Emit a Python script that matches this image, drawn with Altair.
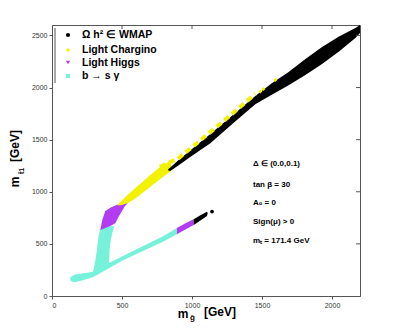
import altair as alt
import pandas as pd

# ---------------- data ----------------
# lower cyan region: blob + lower (b->s gamma) branch, indexed by m_gluino
cyan_x = [128, 140, 160, 200, 250, 290, 340, 400, 500, 600, 700, 800, 892]
cyan_low = [160, 140, 133, 145, 162, 180, 215, 262, 338, 400, 462, 525, 592]
cyan_high = [165, 190, 203, 213, 222, 232, 270, 312, 380, 445, 512, 578, 652]

# near-vertical cyan strip, indexed by m_stop
strip_y = [215, 300, 440, 505, 590, 640, 668]
strip_left = [290, 304, 321, 326, 335, 345, 352]
strip_right = [330, 405, 412, 416, 428, 438, 445]

# light Higgs region on the upper branch
ph_x = [345, 360, 381, 420, 452, 476, 500, 520, 543]
ph_high = [633, 735, 815, 850, 868, 880, 893, 902, 908]
ph_low = [633, 640, 652, 675, 698, 760, 815, 860, 895]

# light chargino band on the upper branch
ch_x = [470, 500, 547, 600, 650, 700, 774, 850]
ch_high = [878, 918, 978, 1040, 1098, 1158, 1240, 1300]
ch_low = [868, 872, 895, 940, 992, 1045, 1122, 1200]

# light Higgs on the lower branch
pl_x = [892, 950, 1012]
pl_high = [652, 695, 736]
pl_low = [592, 635, 681]

# WMAP on the lower branch
wl_x = [1012, 1060, 1107, 1112]
wl_high = [736, 775, 809, 797]
wl_low = [681, 725, 768, 793]
wl_dot_x = [1143]
wl_dot_y = [810]

# WMAP main band
wm_x = [830, 845, 900, 1000, 1131, 1300, 1452, 1570, 1690, 1810, 1929, 2050, 2167, 2200]
wm_high = [1215, 1232, 1300, 1410, 1555, 1745, 1920, 2040, 2150, 2275, 2390, 2490, 2572, 2600]
wm_low = [1205, 1200, 1250, 1345, 1465, 1665, 1840, 1930, 2022, 2120, 2225, 2345, 2476, 2524]

# chargino points along the top edge of the WMAP band
cd_x = [770, 900, 1000, 1131, 1300, 1452]
cd_y = [1240, 1318, 1428, 1572, 1763, 1940]
cp_x = [1488, 1510, 1595]
cp_y = [1962, 1985, 2072]

x_ticks = [0, 500, 1000, 1500, 2000]
y_ticks = [0, 500, 1000, 1500, 2000, 2500]

legend_labels = ["Ω h² ∈ WMAP", "Light Chargino", "Light Higgs", "b → s γ"]
legend_colors = ["#000000", "#f2f200", "#b43cf0", "#76f2da"]
legend_shapes = ["circle", "diamond", "triangle-down", "square"]

notes = ["Δ  ∈ (0.0,0.1)", "tan β = 30", "A₀  = 0", "Sign(μ) > 0", "mₜ = 171.4 GeV"]

BLACK, YELLOW, PURPLE, CYAN = legend_colors
W, H = 308, 271
FONT = "Liberation Sans"

xs = alt.Scale(domain=[0, 2200], nice=False, zero=False)
ys = alt.Scale(domain=[0, 2600], nice=False, zero=False)


def band(xv, lo, hi, color):
    df = pd.DataFrame({"x": xv, "lo": lo, "hi": hi})
    return alt.Chart(df).mark_area(color=color, opacity=1, clip=True).encode(
        x=alt.X("x:Q", scale=xs), y=alt.Y("hi:Q", scale=ys), y2="lo:Q")


x_axis = alt.Axis(values=x_ticks, title=None, grid=False, tickSize=3, tickColor="#555",
                  domainColor="#555", labelFontSize=7, labelFont=FONT, labelColor="#333",
                  labelPadding=2, format="d")
y_axis = alt.Axis(values=y_ticks, title=None, grid=False, tickSize=3, tickColor="#555",
                  domainColor="#555", labelFontSize=7, labelFont=FONT, labelColor="#333",
                  labelPadding=2, format="d")

base_df = pd.DataFrame({"x": cyan_x, "lo": cyan_low, "hi": cyan_high})
cyan_area = alt.Chart(base_df).mark_area(color=CYAN, opacity=1, clip=True).encode(
    x=alt.X("x:Q", scale=xs, axis=x_axis),
    y=alt.Y("hi:Q", scale=ys, axis=y_axis),
    y2="lo:Q")

strip_df = pd.DataFrame({"y": strip_y, "l": strip_left, "r": strip_right})
strip = alt.Chart(strip_df).mark_area(color=CYAN, opacity=1, orient="horizontal", clip=True).encode(
    y=alt.Y("y:Q", scale=ys), x=alt.X("l:Q", scale=xs), x2="r:Q")

layers = [cyan_area, strip,
          band(ph_x, ph_low, ph_high, PURPLE),
          band(ch_x, ch_low, ch_high, YELLOW),
          band(pl_x, pl_low, pl_high, PURPLE),
          band(wl_x, wl_low, wl_high, BLACK),
          band(wm_x, wm_low, wm_high, BLACK)]

dash = alt.Chart(pd.DataFrame({"x": cd_x, "y": cd_y})).mark_line(
    color=YELLOW, strokeWidth=4, strokeDash=[6, 4], clip=True).encode(
    x=alt.X("x:Q", scale=xs), y=alt.Y("y:Q", scale=ys))
ydots = alt.Chart(pd.DataFrame({"x": cp_x, "y": cp_y})).mark_point(
    filled=True, color=YELLOW, size=16, opacity=1, shape="diamond").encode(
    x=alt.X("x:Q", scale=xs), y=alt.Y("y:Q", scale=ys))
bdot = alt.Chart(pd.DataFrame({"x": wl_dot_x, "y": wl_dot_y})).mark_point(
    filled=True, color=BLACK, size=14, opacity=1).encode(
    x=alt.X("x:Q", scale=xs), y=alt.Y("y:Q", scale=ys))
layers += [dash, ydots, bdot]

# inward ticks on top and right frame
top_t = alt.Chart(pd.DataFrame({"v": x_ticks[1:]})).mark_rule(color="#555").encode(
    x=alt.X("v:Q", scale=xs), y=alt.value(0), y2=alt.value(4))
right_t = alt.Chart(pd.DataFrame({"v": y_ticks[1:]})).mark_rule(color="#555").encode(
    y=alt.Y("v:Q", scale=ys), x=alt.value(W), x2=alt.value(W - 4))
box_line = alt.Chart(pd.DataFrame({"v": [0]})).mark_rule(color="#555").encode(
    x=alt.value(3), y=alt.value(3), y2=alt.value(58))
layers += [top_t, right_t, box_line]

# legend
leg_rows = [10, 25, 37.5, 51]
for lab, col, shp, yy in zip(legend_labels, legend_colors, legend_shapes, leg_rows):
    d = pd.DataFrame({"t": [lab]})
    layers.append(alt.Chart(d).mark_point(filled=True, color=col, shape=shp, size=18, opacity=1).encode(
        x=alt.value(16), y=alt.value(yy)))
    layers.append(alt.Chart(d).mark_text(align="left", baseline="middle", font=FONT, fontWeight="bold",
                                         fontSize=10.5, color="#000").encode(
        x=alt.value(30), y=alt.value(yy), text="t:N"))

# annotations
note_rows = [139, 160, 178, 197, 216]
for txt, yy in zip(notes, note_rows):
    d = pd.DataFrame({"t": [txt]})
    layers.append(alt.Chart(d).mark_text(align="left", baseline="middle", font=FONT, fontWeight="bold",
                                         fontSize=8, color="#000").encode(
        x=alt.value(201), y=alt.value(yy), text="t:N"))


def label(txt, x, y, size, angle=0, align="center"):
    d = pd.DataFrame({"t": [txt]})
    kw = dict(align=align, baseline="middle", font=FONT, fontWeight="bold", fontSize=size, color="#000")
    if angle:
        kw["angle"] = angle
    return alt.Chart(d).mark_text(**kw).encode(x=alt.value(x), y=alt.value(y), text="t:N")


# axis titles
layers += [label("m", 131, 289, 12), label("g̃", 138, 293, 8, align="left"),
           label("[GeV]", 152, 287, 12, align="left"),
           label("m", -37, 157, 12, angle=270), label("t̃1", -30, 146, 7, angle=270),
           label("[GeV]", -37, 121, 12, angle=270)]

chart = alt.layer(*layers).properties(
    width=W, height=H,
    autosize=alt.AutoSizeParams(type="none"),
    padding={"left": 44, "top": 17, "right": 30, "bottom": 27},
).configure_view(stroke="#555", strokeWidth=1)

chart.save("out.html", embed_options={"renderer": "svg", "actions": False})
